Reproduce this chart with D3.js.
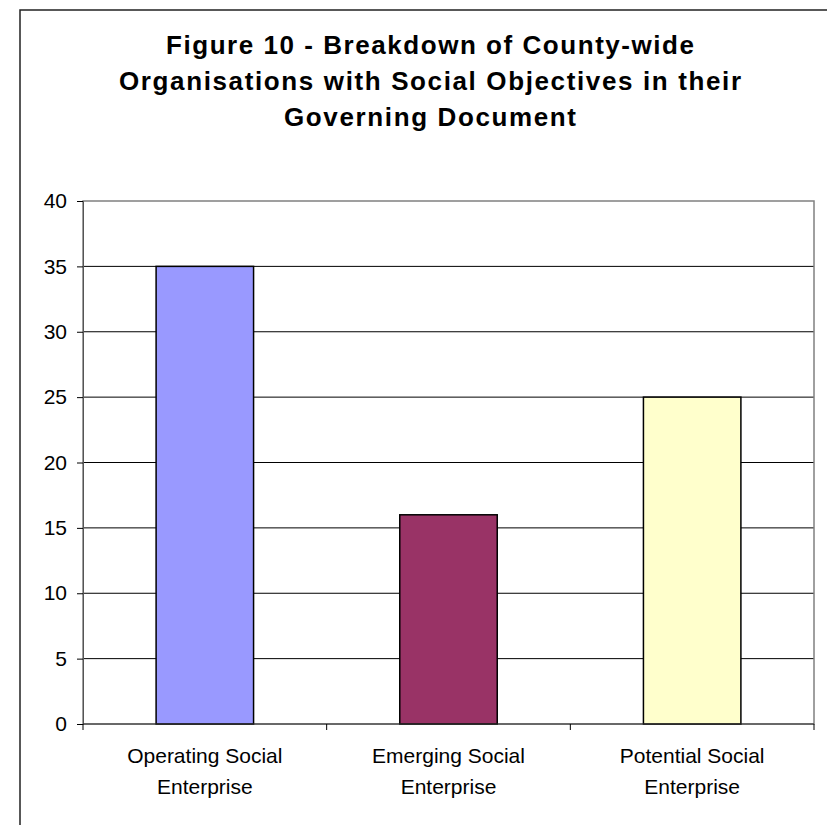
<!DOCTYPE html>
<html>
<head>
<meta charset="utf-8">
<script src="https://cdn.jsdelivr.net/npm/d3@7"></script>
<style>
  body { margin: 0; background: #fff; }
  svg { display: block; font-family: "Liberation Sans", Arial, sans-serif; }
</style>
</head>
<body>
<div id="chart"></div>
<script>
// data
var categories = [["Operating Social", "Enterprise"], ["Emerging Social", "Enterprise"], ["Potential Social", "Enterprise"]];
var values = [35, 16, 25];
var colors = ["#9999FF", "#993366", "#FFFFCC"];
var yTicks = [0, 5, 10, 15, 20, 25, 30, 35, 40];
var titleLines = ["Figure 10 - Breakdown of County-wide", "Organisations with Social Objectives in their", "Governing Document"];
// widths of the title lines as they are spread out in the figure
var titleWidths = [528, 622, 292];

var W = 827, H = 825;
var margin = { top: 201, right: 13, bottom: 101, left: 83 }
  , width = W - margin.left - margin.right
  , height = H - margin.top - margin.bottom;

var svg = d3.select("#chart").append("svg")
  .attr("width", W)
  .attr("height", H);

// outer chart frame (runs off the right and bottom edge)
svg.append("rect")
  .attr("x", 20).attr("y", 10)
  .attr("width", W).attr("height", H)
  .attr("fill", "none")
  .attr("stroke", "#222")
  .attr("stroke-width", 1.5);

// title
svg.append("g")
  .selectAll("text")
  .data(titleLines)
  .join("text")
  .attr("text-anchor", "middle")
  .attr("font-weight", "bold")
  .attr("font-size", 26)
  .attr("fill", "#000")
  .attr("x", 430)
  .attr("y", function (d, i) { return 54 + i * 36; })
  .attr("textLength", function (d, i) { return titleWidths[i]; })
  .attr("lengthAdjust", "spacing")
  .text(function (d) { return d; });

var g = svg.append("g")
  .attr("transform", "translate(" + margin.left + "," + margin.top + ")");

var x = d3.scaleBand()
  .domain(d3.range(values.length))
  .range([0, width])
  .paddingInner(0.6)
  .paddingOuter(0.3);

var xGroup = d3.scaleBand()
  .domain(d3.range(values.length))
  .range([0, width]);

var y = d3.scaleLinear()
  .domain([0, 40])
  .range([height, 0]);

// gridlines
g.append("g")
  .selectAll("line")
  .data(yTicks.filter(function (d) { return d > 0 && d < 40; }))
  .join("line")
  .attr("x1", 0).attr("x2", width)
  .attr("y1", function (d) { return y(d); })
  .attr("y2", function (d) { return y(d); })
  .attr("stroke", "#000")
  .attr("stroke-width", 1);

// plot area border
g.append("rect")
  .attr("width", width).attr("height", height)
  .attr("fill", "none")
  .attr("stroke", "#808080")
  .attr("stroke-width", 1.5);

// bars
g.append("g")
  .selectAll("rect")
  .data(values)
  .join("rect")
  .attr("x", function (d, i) { return x(i); })
  .attr("y", function (d) { return y(d); })
  .attr("width", x.bandwidth())
  .attr("height", function (d) { return height - y(d); })
  .attr("fill", function (d, i) { return colors[i]; })
  .attr("stroke", "#000")
  .attr("stroke-width", 1.5);

// y axis
var yAxis = g.append("g")
  .call(d3.axisLeft(y).tickValues(yTicks).tickSize(6).tickPadding(10));
yAxis.select(".domain").attr("stroke", "#555");
yAxis.selectAll("text").attr("font-size", 21).attr("fill", "#000")
  .attr("font-family", "Liberation Sans, Arial, sans-serif");

// x axis: ticks at group boundaries
var xAxis = g.append("g")
  .attr("transform", "translate(0," + height + ")");
xAxis.append("line")
  .attr("x1", 0).attr("x2", width)
  .attr("stroke", "#333").attr("stroke-width", 1.2);
xAxis.selectAll(".tick")
  .data(d3.range(values.length + 1))
  .join("line")
  .attr("class", "tick")
  .attr("x1", function (d) { return d * xGroup.step(); })
  .attr("x2", function (d) { return d * xGroup.step(); })
  .attr("y1", 0).attr("y2", 6)
  .attr("stroke", "#000");

xAxis.selectAll(".lbl")
  .data(categories)
  .join("text")
  .attr("class", "lbl")
  .attr("text-anchor", "middle")
  .attr("font-size", 21)
  .attr("fill", "#000")
  .selectAll("tspan")
  .data(function (d, i) { return d.map(function (t) { return { t: t, i: i }; }); })
  .join("tspan")
  .attr("x", function (d) { return xGroup(d.i) + xGroup.bandwidth() / 2; })
  .attr("y", function (d, j) { return 39 + j * 31; })
  .text(function (d) { return d.t; });
</script>
</body>
</html>
